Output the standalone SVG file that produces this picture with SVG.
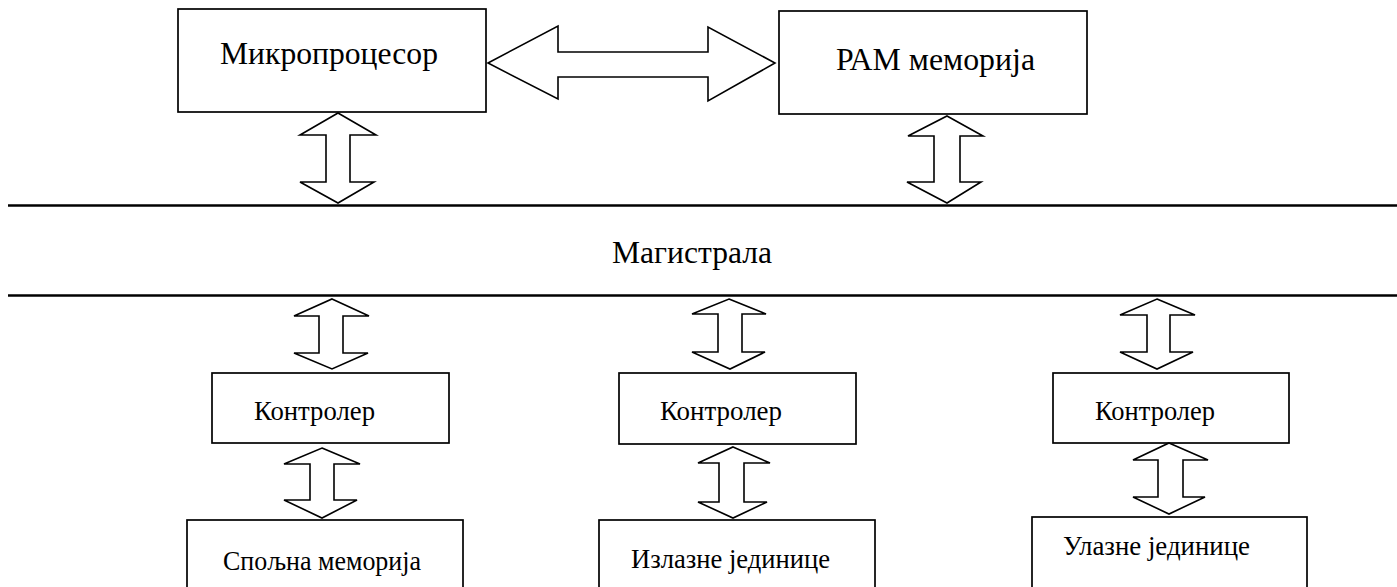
<svg xmlns="http://www.w3.org/2000/svg" width="1397" height="587" viewBox="0 0 1397 587">
<style>
.box{fill:#fff;stroke:#000;stroke-width:1.7}
.arr{fill:#fff;stroke:#000;stroke-width:1.6;stroke-linejoin:miter}
.bus{stroke:#000;stroke-width:2.5}
.big{font-family:"Liberation Serif","Times New Roman",serif;font-size:32px;fill:#000}
.sm{font-family:"Liberation Serif","Times New Roman",serif;font-size:27px;fill:#000}
</style>
<rect width="1397" height="587" fill="#fff"/>
<g id="bus">
<line class="bus" x1="8" y1="205.5" x2="1397" y2="205.5"/>
<line class="bus" x1="8" y1="295.5" x2="1397" y2="295.5"/>
<text class="big" x="612" y="263" textLength="160" lengthAdjust="spacingAndGlyphs">Магистрала</text>
</g>
<g id="cpu">
<rect class="box" x="178" y="9" width="308" height="103"/>
<text class="big" x="220" y="64" textLength="218" lengthAdjust="spacingAndGlyphs">Микропроцесор</text>
</g>
<g id="ram">
<rect class="box" x="779" y="11" width="308" height="103"/>
<text class="big" x="836" y="70" textLength="199" lengthAdjust="spacingAndGlyphs">РАМ меморија</text>
</g>
<g id="ctrl1">
<rect class="box" x="212" y="373" width="237" height="70"/>
<text class="sm" x="254" y="420" textLength="121" lengthAdjust="spacingAndGlyphs">Контролер</text>
</g>
<g id="ctrl2">
<rect class="box" x="619" y="373" width="237" height="71"/>
<text class="sm" x="660" y="420" textLength="122" lengthAdjust="spacingAndGlyphs">Контролер</text>
</g>
<g id="ctrl3">
<rect class="box" x="1053" y="373" width="236" height="70"/>
<text class="sm" x="1095" y="420" textLength="120" lengthAdjust="spacingAndGlyphs">Контролер</text>
</g>
<g id="extmem">
<rect class="box" x="187" y="520" width="276" height="90"/>
<text class="sm" x="223" y="570" textLength="198" lengthAdjust="spacingAndGlyphs">Спољна меморија</text>
</g>
<g id="output">
<rect class="box" x="599" y="520" width="276" height="90"/>
<text class="sm" x="631" y="568" textLength="199" lengthAdjust="spacingAndGlyphs">Излазне јединице</text>
</g>
<g id="input">
<rect class="box" x="1032" y="517" width="275" height="90"/>
<text class="sm" x="1063" y="555" textLength="187" lengthAdjust="spacingAndGlyphs">Улазне јединице</text>
</g>
<g id="connectors">
<polygon class="arr" points="488,63 558,26 558,52 708,52 708,27 775,63 708,101 708,77 558,77 558,99"/>
<polygon class="arr" points="338,113 376,135 350,135 350,182 374,182 338,203 300,182 326,182 326,135 300,135"/>
<polygon class="arr" points="947,116 983,136 960,136 960,182 981,182 947,203 907,182 934,182 934,136 908,136"/>
<polygon class="arr" points="332,299 369,316 343,316 343,353 368,353 332,369 294,353 319,353 319,316 294,316"/>
<polygon class="arr" points="322,448 360,464 334,464 334,500 357,500 322,518 284,500 310,500 310,464 284,464"/>
<polygon class="arr" points="729,299 766,314 742,314 742,352 765,352 730,369 692,352 718,352 718,314 692,314"/>
<polygon class="arr" points="733,447 770,463 744,463 744,502 767,502 733,518 698,502 719,502 719,463 698,463"/>
<polygon class="arr" points="1157,299 1195,315 1170,315 1170,352 1193,352 1157,369 1120,352 1147,352 1147,315 1120,315"/>
<polygon class="arr" points="1169,443 1208,460 1183,460 1183,497 1205,497 1169,514 1133,497 1158,497 1158,460 1133,460"/>
</g>
</svg>
